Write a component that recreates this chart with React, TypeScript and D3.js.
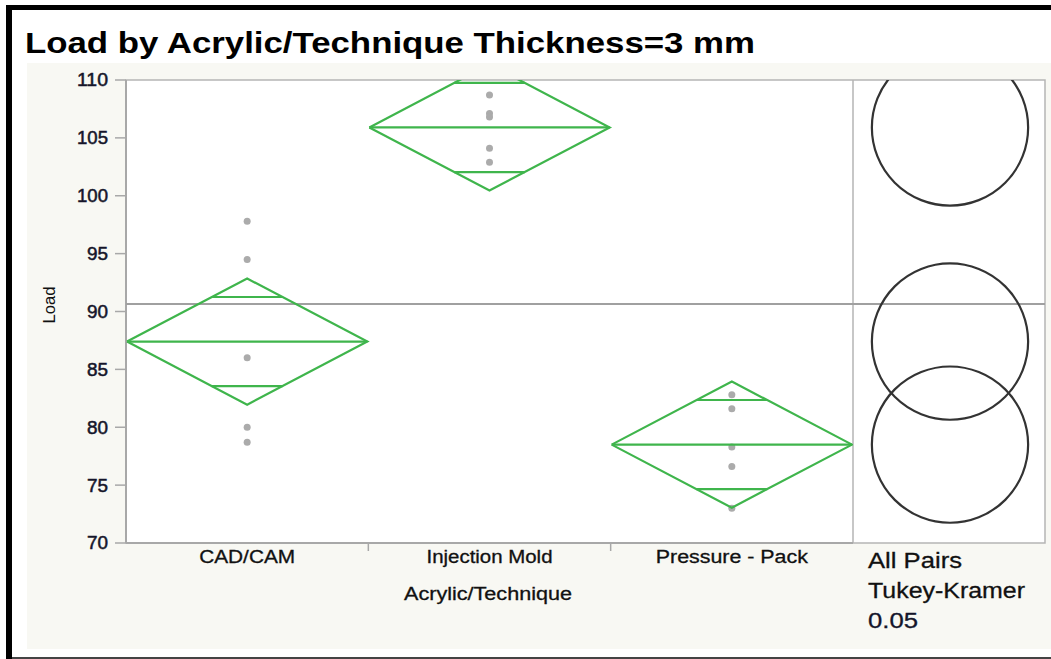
import React from "react";
import * as d3 from "d3";

const categories = ["CAD/CAM", "Injection Mold", "Pressure - Pack"];
const cadcamLoads = [97.8, 94.5, 86.0, 80.0, 78.7];
const injectionLoads = [108.7, 107.1, 106.8, 104.1, 102.9];
const pressureLoads = [82.8, 81.6, 78.3, 76.6, 73.0];
const groupMeans = [87.4, 105.9, 78.5];
const ciHalfWidths = [5.45, 5.45, 5.45];
const grandMean = 90.65;
const circleRadii = [6.75, 6.75, 6.75];
const yTicks = [70, 75, 80, 85, 90, 95, 100, 105, 110];
const titleText = "Load by Acrylic/Technique Thickness=3 mm";
const legendLines = ["All Pairs", "Tukey-Kramer", "0.05"];

const groupLoads = [cadcamLoads, injectionLoads, pressureLoads];

const W = 1051;
const H = 659;
const plotLeft = 126;
const plotRight = 853;
const panelRight = 1045;
const plotTop = 80;
const plotBottom = 543;
const GREEN = "#3fb54c";
const FONT = "'Liberation Sans', Arial, Helvetica, sans-serif";

export default function App() {
  const y = d3.scaleLinear().domain([70, 110]).range([plotBottom, plotTop]);
  const x = d3.scaleBand<string>().domain(categories).range([plotLeft, plotRight]).padding(0);
  const bw = x.bandwidth();
  const circleCx = (plotRight + panelRight) / 2 + 1;
  const pxPerUnit = y(0) - y(1);

  return (
    <svg width={W} height={H} style={{ position: "absolute", left: 0, top: 0 }} fontFamily={FONT}>
      <defs>
        <clipPath id="plotClip">
          <rect x={plotLeft} y={plotTop} width={plotRight - plotLeft} height={plotBottom - plotTop} />
        </clipPath>
        <clipPath id="panelClip">
          <rect x={plotRight} y={plotTop} width={panelRight - plotRight} height={plotBottom - plotTop} />
        </clipPath>
      </defs>
      <rect x={0} y={0} width={W} height={H} fill="#ffffff" />
      {/* light background panel */}
      <rect x={27} y={63} width={W - 27} height={649 - 63} fill="#f8f8f3" />
      {/* outer frame */}
      <rect x={7} y={5} width={W - 7} height={5} fill="#000" />
      <rect x={6} y={5} width={6} height={H - 5} fill="#000" />
      <rect x={12} y={657} width={W - 12} height={2} fill="#444" />

      {/* title */}
      <text x={25} y={53} fontSize={30} fontWeight="bold" fill="#000" textLength={730} lengthAdjust="spacingAndGlyphs">
        {titleText}
      </text>

      {/* plot areas */}
      <rect x={plotLeft} y={plotTop} width={panelRight - plotLeft} height={plotBottom - plotTop} fill="#fff" stroke="#b5b5b5" strokeWidth={1.5} />
      <line x1={plotRight} x2={plotRight} y1={plotTop} y2={plotBottom} stroke="#b5b5b5" strokeWidth={1.5} />

      {/* y axis */}
      <line x1={plotLeft} x2={plotLeft} y1={plotTop} y2={plotBottom} stroke="#a8a8a8" strokeWidth={2} />
      {yTicks.map((t) => (
        <g key={t}>
          <line x1={plotLeft - 11} x2={plotLeft} y1={y(t)} y2={y(t)} stroke="#a8a8a8" strokeWidth={1.5} />
          <text x={108} y={y(t)} dy="0.36em" textAnchor="end" fontSize={18} fill="#15152a" stroke="#15152a" strokeWidth={0.5}
            textLength={t >= 100 ? 31 : 21} lengthAdjust="spacingAndGlyphs">
            {t}
          </text>
        </g>
      ))}
      <text transform={`translate(55, 305) rotate(-90)`} textAnchor="middle" fontSize={17} fill="#111" textLength={37} lengthAdjust="spacingAndGlyphs">
        Load
      </text>

      {/* x axis */}
      <line x1={plotLeft} x2={plotRight} y1={plotBottom} y2={plotBottom} stroke="#a8a8a8" strokeWidth={2} />
      {categories.slice(1).map((c) => (
        <line key={c} x1={x(c)!} x2={x(c)!} y1={plotBottom} y2={plotBottom + 8} stroke="#a8a8a8" strokeWidth={1.5} />
      ))}
      {categories.map((c, i) => (
        <text key={c} x={x(c)! + bw / 2} y={563} textAnchor="middle" fontSize={18} fill="#111" stroke="#111" strokeWidth={0.3}
          textLength={[96, 126, 152][i]} lengthAdjust="spacingAndGlyphs">
          {c}
        </text>
      ))}
      <text x={488} y={600} textAnchor="middle" fontSize={18} fill="#111" stroke="#111" strokeWidth={0.3} textLength={168} lengthAdjust="spacingAndGlyphs">
        Acrylic/Technique
      </text>

      {/* grand mean line */}
      <line x1={plotLeft} x2={panelRight} y1={y(grandMean)} y2={y(grandMean)} stroke="#a0a0a0" strokeWidth={2} />

      {/* diamonds and points */}
      <g clipPath="url(#plotClip)">
        {categories.map((c, i) => {
          const x0 = x(c)!;
          const cx = x0 + bw / 2;
          const m = groupMeans[i];
          const ci = ciHalfWidths[i];
          const ov = ci / Math.SQRT2;
          const half = bw / 2;
          const ovHalf = half * (1 - ov / ci);
          const diamond = d3.line()([
            [x0 + 1, y(m)],
            [cx, y(m + ci)],
            [x0 + bw - 1, y(m)],
            [cx, y(m - ci)],
            [x0 + 1, y(m)],
          ]);
          return (
            <g key={c}>
              {groupLoads[i].map((v, j) => (
                <circle key={j} cx={cx} cy={y(v)} r={3.5} fill="#ababab" />
              ))}
              <path d={diamond!} fill="none" stroke={GREEN} strokeWidth={2.2} strokeLinejoin="miter" />
              <line x1={x0 + 1} x2={x0 + bw - 1} y1={y(m)} y2={y(m)} stroke={GREEN} strokeWidth={2.2} />
              <line x1={cx - ovHalf} x2={cx + ovHalf} y1={y(m + ov)} y2={y(m + ov)} stroke={GREEN} strokeWidth={2.2} />
              <line x1={cx - ovHalf} x2={cx + ovHalf} y1={y(m - ov)} y2={y(m - ov)} stroke={GREEN} strokeWidth={2.2} />
            </g>
          );
        })}
      </g>

      {/* comparison circles */}
      <g clipPath="url(#panelClip)">
        {groupMeans.map((m, i) => (
          <circle key={i} cx={circleCx} cy={y(m)} r={circleRadii[i] * pxPerUnit} fill="none" stroke="#333" strokeWidth={2.2} />
        ))}
      </g>

      {/* legend text */}
      {legendLines.map((t, i) => (
        <text key={t} x={868} y={568 + i * 30} fontSize={22} fill={i === 2 ? "#14142a" : "#111"} stroke={i === 2 ? "#14142a" : "#111"} strokeWidth={0.3}
          textLength={[94, 157, 50][i]} lengthAdjust="spacingAndGlyphs">
          {t}
        </text>
      ))}
    </svg>
  );
}
